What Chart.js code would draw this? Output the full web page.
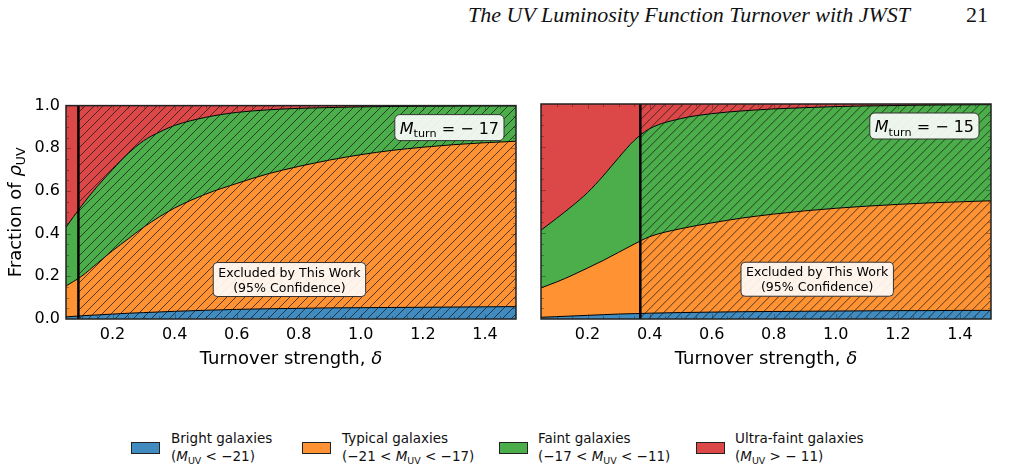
<!doctype html>
<html>
  <head>
    <script src="https://cdnjs.cloudflare.com/ajax/libs/Chart.js/4.4.1/chart.umd.min.js"></script>
    <style>
      body { margin:0; background:#fff; width:1009px; height:468px; position:relative; overflow:hidden; font-family:'DejaVu Sans'; }
      .hdr { position:absolute; top:2px; font-family:'Liberation Serif'; font-size:22px; color:#111; white-space:nowrap; }
      .leg { position:absolute; top:429px; font-size:13.5px; line-height:18px; white-space:nowrap; color:#111; }
      .patch { position:absolute; top:442px; width:27px; height:10px; border:1px solid #222; }
      sub { font-size:70%; vertical-align:-3px; line-height:0; }
    </style>
    <script>
      // delta values (x) shared by both panels
      let deltas = [0.05,0.1,0.15,0.2,0.25,0.3,0.35,0.4,0.5,0.6,0.7,0.8,0.9,1.0,1.1,1.2,1.3,1.4,1.5];

      // M_turn = -17 : cumulative upper edge of each population
      let brightTopA = [0.010,0.015,0.019,0.023,0.027,0.030,0.033,0.036,0.041,0.045,0.048,0.050,0.052,0.053,0.054,0.055,0.056,0.057,0.058];
      let typicalTopA = [0.155,0.20,0.26,0.32,0.375,0.43,0.478,0.52,0.585,0.635,0.68,0.715,0.745,0.77,0.79,0.805,0.817,0.826,0.833];
      let faintTopA = [0.43,0.53,0.62,0.70,0.775,0.835,0.875,0.907,0.945,0.968,0.98,0.987,0.991,0.994,0.996,0.997,0.998,0.999,0.999];

      // M_turn = -15
      let brightTopB = [0.008,0.011,0.014,0.017,0.020,0.023,0.025,0.027,0.030,0.032,0.034,0.035,0.036,0.037,0.038,0.039,0.039,0.040,0.040];
      let typicalTopB = [0.145,0.172,0.203,0.237,0.272,0.31,0.348,0.383,0.42,0.447,0.47,0.488,0.503,0.515,0.525,0.533,0.54,0.545,0.55];
      let faintTopB = [0.413,0.468,0.525,0.588,0.665,0.75,0.83,0.885,0.932,0.955,0.968,0.977,0.983,0.988,0.991,0.993,0.995,0.996,0.997];

      // ultra-faint always fills up to 1
      let ultraTop = [1,1,1,1,1,1,1,1,1,1,1,1,1,1,1,1,1,1,1];

      let xTickVals = [0.2,0.4,0.6,0.8,1.0,1.2,1.4];
      let yTickVals = [0.0,0.2,0.4,0.6,0.8,1.0];
      let cutA = 0.09, cutB = 0.37;
      let mturnA = -17, mturnB = -15;

      let colBright = 'rgba(31,119,180,0.85)';
      let colTypical = 'rgba(255,127,14,0.85)';
      let colFaint = 'rgba(44,160,44,0.85)';
      let colUltra = 'rgba(214,39,40,0.85)';

      function pts(arr){ return deltas.map((d,i)=>({x:d, y:arr[i]})); }

      function drawRich(ctx, segs, x, y, size){
        let cx = x;
        for (let s of segs){
          let fs = s.sub ? size*0.7 : size;
          ctx.font = (s.i ? 'italic ' : '') + fs + 'px "DejaVu Sans"';
          ctx.fillText(s.t, cx, y + (s.sub ? size*0.22 : 0));
          cx += ctx.measureText(s.t).width;
        }
        return cx - x;
      }
      function richWidth(ctx, segs, size){
        let w = 0;
        for (let s of segs){
          let fs = s.sub ? size*0.7 : size;
          ctx.font = (s.i ? 'italic ' : '') + fs + 'px "DejaVu Sans"';
          w += ctx.measureText(s.t).width;
        }
        return w;
      }
      function roundBox(ctx, x, y, w, h, r, fill){
        ctx.beginPath();
        ctx.roundRect(x, y, w, h, r);
        ctx.fillStyle = fill; ctx.fill();
        ctx.strokeStyle = '#333'; ctx.lineWidth = 1; ctx.stroke();
      }

      let panelDeco = {
        id: 'panelDeco',
        afterDatasetsDraw(chart){
          let o = chart.options.plugins.panelDeco;
          let ctx = chart.ctx, a = chart.chartArea, xs = chart.scales.x, ys = chart.scales.y;
          let xc = xs.getPixelForValue(o.cut);
          let h = a.bottom - a.top;
          // hatch over excluded region
          ctx.save();
          ctx.beginPath(); ctx.rect(xc, a.top, a.right - xc, h); ctx.clip();
          ctx.strokeStyle = 'rgba(25,25,25,0.75)'; ctx.lineWidth = 1;
          ctx.beginPath();
          for (let x = xc - h - 20; x < a.right; x += 9){ ctx.moveTo(x, a.bottom); ctx.lineTo(x + h, a.top); }
          ctx.stroke();
          ctx.restore();
          // inward ticks
          ctx.save();
          ctx.strokeStyle = 'rgba(0,0,0,0.3)'; ctx.lineWidth = 1;
          ctx.beginPath();
          for (let v = 0.05; v < 1.5; v += 0.05){
            let px = Math.round(xs.getPixelForValue(v)) + 0.5;
            let major = xTickVals.some(t => Math.abs(t - v) < 1e-6);
            let L = major ? 5 : 3;
            ctx.moveTo(px, a.bottom); ctx.lineTo(px, a.bottom - L);
            ctx.moveTo(px, a.top); ctx.lineTo(px, a.top + L);
          }
          for (let v = 0.05; v < 1.0; v += 0.05){
            let py = Math.round(ys.getPixelForValue(v)) + 0.5;
            let major = yTickVals.some(t => Math.abs(t - v) < 1e-6);
            let L = major ? 5 : 3;
            ctx.moveTo(a.left, py); ctx.lineTo(a.left + L, py);
            ctx.moveTo(a.right, py); ctx.lineTo(a.right - L, py);
          }
          ctx.stroke();
          ctx.restore();
          // excluded boundary
          ctx.save();
          ctx.strokeStyle = '#000'; ctx.lineWidth = 2.5;
          ctx.beginPath(); ctx.moveTo(xc, a.top); ctx.lineTo(xc, a.bottom); ctx.stroke();
          // frame
          ctx.strokeStyle = '#222'; ctx.lineWidth = 1.5;
          ctx.strokeRect(a.left, a.top, a.right - a.left, h);
          ctx.restore();
        },
        afterDraw(chart){
          let o = chart.options.plugins.panelDeco;
          let ctx = chart.ctx, a = chart.chartArea, xs = chart.scales.x, ys = chart.scales.y;
          ctx.save();
          ctx.textBaseline = 'alphabetic';
          // M_turn label box
          let msegs = [{t:'M', i:true}, {t:'turn', sub:true}, {t:' = \u2212 ' + Math.abs(o.mturn)}];
          let mw = richWidth(ctx, msegs, 16);
          let bx = a.right - 12 - (mw + 10);
          roundBox(ctx, bx, a.top + 9, mw + 10, 26, 5, 'rgba(255,255,255,0.9)');
          ctx.fillStyle = '#000';
          drawRich(ctx, msegs, bx + 5, a.top + 28, 16);
          // excluded label box
          ctx.font = '12.6px "DejaVu Sans"';
          let l1 = 'Excluded by This Work', l2 = '(95% Confidence)';
          let w = Math.max(ctx.measureText(l1).width, ctx.measureText(l2).width) + 10;
          let cx = xs.getPixelForValue(o.exclX), cy = ys.getPixelForValue(0.185);
          roundBox(ctx, cx - w/2, cy - 17, w, 34, 4, 'rgba(255,255,255,0.9)');
          ctx.fillStyle = '#000'; ctx.textAlign = 'center';
          ctx.fillText(l1, cx, cy - 3);
          ctx.fillText(l2, cx, cy + 12);
          // x title
          ctx.textAlign = 'left';
          let xsegs = [{t:'Turnover strength, '}, {t:'\u03b4', i:true}];
          let xw = richWidth(ctx, xsegs, 18);
          drawRich(ctx, xsegs, (a.left + a.right)/2 - xw/2, a.bottom + 45, 18);
          // y title
          if (o.showY){
            let ysegs = [{t:'Fraction of '}, {t:'\u03c1', i:true}, {t:'UV', sub:true}];
            let yw = richWidth(ctx, ysegs, 18);
            ctx.translate(21, (a.top + a.bottom)/2);
            ctx.rotate(-Math.PI/2);
            drawRich(ctx, ysegs, -yw/2, 0, 18);
          }
          ctx.restore();
        }
      };

      function makePanel(id, bright, typical, faint, cut, mturn, exclX, showY){
        return new Chart(document.getElementById(id), {
          type: 'line',
          data: {
            datasets: [
              {label:'Bright', data: pts(bright), fill:'origin', backgroundColor: colBright},
              {label:'Typical', data: pts(typical), fill:'-1', backgroundColor: colTypical},
              {label:'Faint', data: pts(faint), fill:'-1', backgroundColor: colFaint},
              {label:'Ultra-faint', data: pts(ultraTop), fill:'-1', backgroundColor: colUltra, borderWidth:0}
            ]
          },
          options: {
            responsive: false,
            animation: false,
            devicePixelRatio: 1,
            layout: { padding: { top: 14, right: showY ? 14 : 9, left: 0, bottom: 0 } },
            elements: {
              point: { radius: 0 },
              line: { borderColor: '#000', borderWidth: 1, cubicInterpolationMode: 'monotone' }
            },
            plugins: {
              legend: { display: false },
              tooltip: { enabled: false },
              panelDeco: { cut: cut, mturn: mturn, exclX: exclX, showY: showY }
            },
            scales: {
              x: {
                type: 'linear', min: 0.05, max: 1.5,
                grid: { display: false, drawTicks: false },
                border: { display: false },
                afterBuildTicks: s => { s.ticks = xTickVals.map(v => ({value: v})); },
                afterFit: s => { s.height = 61; },
                ticks: { padding: 6, color: '#000', font: { size: 16 }, callback: v => v.toFixed(1) }
              },
              y: {
                type: 'linear', min: 0, max: 1,
                grid: { display: false, drawTicks: false },
                border: { display: false },
                afterBuildTicks: s => { s.ticks = yTickVals.map(v => ({value: v})); },
                afterFit: s => { s.width = showY ? 66 : 11; },
                ticks: { display: showY, padding: 6, color: '#000', font: { size: 16 }, callback: v => v.toFixed(1) }
              }
            }
          },
          plugins: [panelDeco]
        });
      }

      function startPage(){
        Chart.defaults.font.family = '"DejaVu Sans"';
        makePanel('c1', brightTopA, typicalTopA, faintTopA, cutA, mturnA, 0.77, true);
        makePanel('c2', brightTopB, typicalTopB, faintTopB, cutB, mturnB, 0.94, false);
      }
    </script>
  </head>
  <body onload="startPage()">
    <div class="hdr" style="left:468px"><i>The UV Luminosity Function Turnover with JWST</i></div>
    <div class="hdr" style="left:966px">21</div>

    <div style="position:absolute; left:0; top:90px"><canvas id="c1" width="530" height="290"></canvas></div>
    <div style="position:absolute; left:530px; top:90px"><canvas id="c2" width="470" height="290"></canvas></div>

    <div class="patch" style="left:131px; background:rgba(31,119,180,0.85)"></div>
    <div class="leg" style="left:171px">Bright galaxies<br/>(<i>M</i><sub>UV</sub> &lt; &minus;21)</div>
    <div class="patch" style="left:302px; background:rgba(255,127,14,0.85)"></div>
    <div class="leg" style="left:342px">Typical galaxies<br/>(&minus;21 &lt; <i>M</i><sub>UV</sub> &lt; &minus;17)</div>
    <div class="patch" style="left:499px; background:rgba(44,160,44,0.85)"></div>
    <div class="leg" style="left:538px">Faint galaxies<br/>(&minus;17 &lt; <i>M</i><sub>UV</sub> &lt; &minus;11)</div>
    <div class="patch" style="left:696px; background:rgba(214,39,40,0.85)"></div>
    <div class="leg" style="left:735px">Ultra-faint galaxies<br/>(<i>M</i><sub>UV</sub> &gt; &minus; 11)</div>
  </body>
</html>
